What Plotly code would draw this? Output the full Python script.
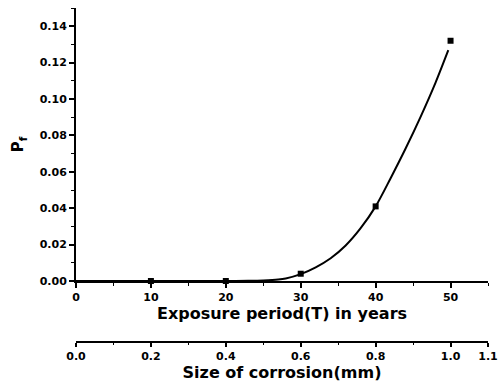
import plotly.graph_objects as go

# Data
years_points = [10, 20, 30, 40, 50]
pf_points = [0.0, 0.0, 0.004, 0.041, 0.132]

years_curve = [0, 5, 10, 15, 20, 23, 25, 27, 28, 30, 32, 34, 36, 38, 40, 42, 44, 46, 48, 49.7]
pf_curve = [0, 0, 0, 0, 0, 0.0001, 0.0003, 0.0008, 0.0014, 0.0038, 0.0075, 0.0125,
            0.0195, 0.0290, 0.0410, 0.0565, 0.0728, 0.0902, 0.1090, 0.1268]

x_ticks = [0, 10, 20, 30, 40, 50]
y_ticks = [0.00, 0.02, 0.04, 0.06, 0.08, 0.10, 0.12, 0.14]
corrosion_ticks = [0.0, 0.2, 0.4, 0.6, 0.8, 1.0, 1.1]
corrosion_labels = ["0.0", "0.2", "0.4", "0.6", "0.8", "1.0", "1.1"]

FONT = "DejaVu Sans"
tickfont = dict(family=FONT, size=11, color="black", weight="bold")
titlefont = dict(family=FONT, size=16, color="black", weight="bold")

fig = go.Figure()
fig.add_trace(go.Scatter(x=years_curve, y=pf_curve, mode="lines",
                         line=dict(color="black", width=2, shape="spline", smoothing=0.8),
                         showlegend=False, hoverinfo="skip"))
fig.add_trace(go.Scatter(x=years_points, y=pf_points, mode="markers",
                         marker=dict(symbol="square", size=6, color="black"),
                         cliponaxis=False, showlegend=False))
# invisible trace for the corrosion axis
fig.add_trace(go.Scatter(x=[corrosion_ticks[0], corrosion_ticks[-1]], y=[0.05, 0.05], xaxis="x2", yaxis="y",
                         mode="markers", marker=dict(opacity=0), showlegend=False, hoverinfo="skip"))

fig.update_layout(
    width=499, height=382,
    margin=dict(l=76, r=11, t=8, b=40),
    paper_bgcolor="white", plot_bgcolor="white",
    xaxis=dict(
        range=[0, 55], domain=[0, 1], anchor="y",
        tickvals=x_ticks, ticks="outside", ticklen=5, tickwidth=1.5, tickcolor="black",
        minor=dict(dtick=5, tick0=0, ticks="outside", ticklen=3, tickcolor="black", tickwidth=1.2),
        showline=True, linecolor="black", linewidth=2, showgrid=False, zeroline=False,
        tickfont=tickfont,
        title=dict(text="Exposure period(T) in years", font=titlefont, standoff=4),
    ),
    xaxis2=dict(
        range=[0, 1.1], overlaying="x", anchor="free", position=0, side="bottom",
        tickvals=corrosion_ticks, ticktext=corrosion_labels,
        ticks="outside", ticklen=4, tickwidth=1.5, tickcolor="black",
        minor=dict(dtick=0.1, tick0=0, ticks="outside", ticklen=2, tickcolor="black", tickwidth=1.2),
        showline=True, linecolor="black", linewidth=2, showgrid=False, zeroline=False,
        tickfont=tickfont,
        title=dict(text="Size of corrosion(mm)", font=titlefont, standoff=6),
        automargin=False,
    ),
    yaxis=dict(
        range=[0, 0.15], domain=[0.1826, 1],
        tickvals=y_ticks, tickformat=".2f",
        ticks="outside", ticklen=5, tickwidth=1.5, tickcolor="black",
        minor=dict(dtick=0.01, tick0=0, ticks="outside", ticklen=3, tickcolor="black", tickwidth=1.2),
        showline=True, linecolor="black", linewidth=2, showgrid=False, zeroline=False,
        tickfont=tickfont,
        title=dict(text="P<sub>f</sub>", font=dict(family=FONT, size=15, color="black", weight="bold"), standoff=12),
    ),
)

fig.write_html("out.html")
